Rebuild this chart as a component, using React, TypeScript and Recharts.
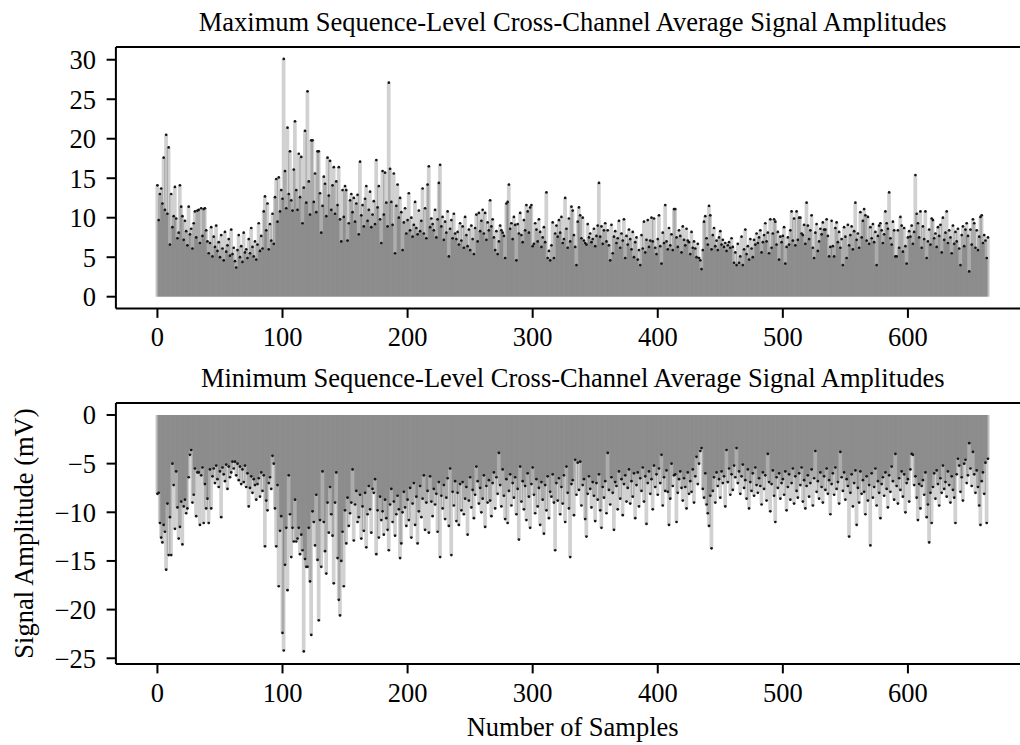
import React from 'react';
import { ComposedChart, Bar, Scatter, XAxis, YAxis, ReferenceLine } from 'recharts';

// Maximum sequence-level cross-channel average amplitude, samples 0..664
const maxValues: number[] = [
  14.1, 9.7, 13.0, 13.7, 11.8, 17.6, 11.0, 20.5, 10.5, 18.9, 6.6, 13.0, 8.8, 10.2, 13.9, 9.9, 7.4, 8.1, 14.1, 11.4,
  10.2, 7.2, 9.6, 8.3, 6.5, 11.4, 7.9, 8.6, 6.1, 9.3, 10.8, 7.5, 10.9, 11.0, 6.8, 11.2, 7.7, 11.1, 11.2, 8.4,
  7.0, 5.5, 6.8, 8.8, 5.1, 7.6, 6.3, 9.0, 5.8, 6.9, 5.0, 7.8, 6.1, 4.6, 8.2, 5.7, 6.5, 7.3, 5.2, 8.5,
  5.4, 6.2, 4.5, 3.7, 5.9, 7.8, 5.0, 6.4, 4.4, 8.1, 5.6, 6.0, 4.9, 7.3, 5.5, 8.7, 6.3, 5.1, 7.0, 4.7,
  6.6, 9.3, 5.8, 7.7, 6.1, 10.8, 12.7, 8.4, 11.8, 6.0, 9.2, 7.1, 10.5, 6.7, 12.6, 14.9, 9.5, 15.1, 10.8, 13.5,
  12.4, 30.1, 15.9, 11.2, 21.4, 13.0, 18.4, 12.2, 10.9, 16.1, 22.2, 13.5, 11.0, 18.1, 12.6, 17.7, 9.3, 13.8, 21.0, 11.9,
  26.0, 14.6, 10.4, 19.8, 19.8, 12.0, 15.6, 10.7, 18.4, 18.4, 13.1, 8.1, 11.5, 15.2, 14.3, 10.2, 17.6, 12.8, 17.2, 11.0,
  14.1, 16.4, 10.5, 14.6, 11.6, 16.4, 9.8, 7.0, 13.5, 10.1, 14.0, 13.5, 7.1, 9.3, 12.2, 13.0, 10.7, 12.5, 9.5, 11.8,
  12.9, 7.9, 17.1, 10.3, 11.6, 8.9, 12.4, 14.0, 9.6, 11.0, 13.3, 8.8, 10.4, 12.1, 9.2, 17.3, 11.3, 14.0, 9.8, 6.8,
  15.9, 10.4, 15.7, 11.9, 8.9, 27.1, 16.2, 12.0, 9.1, 15.6, 5.5, 11.5, 14.2, 10.0, 12.5, 10.7, 5.9, 9.4, 11.2, 8.0,
  9.7, 13.1, 8.4, 10.0, 7.6, 9.1, 12.0, 8.7, 7.9, 10.9, 8.3, 9.6, 13.7, 8.0, 11.2, 7.4, 14.2, 16.5, 8.8, 9.9,
  9.2, 8.4, 11.0, 7.5, 9.8, 14.4, 16.7, 8.9, 10.1, 7.2, 9.5, 8.1, 10.8, 5.1, 8.6, 9.7, 7.4, 10.5, 8.0, 7.3,
  8.2, 6.6, 9.3, 7.1, 8.9, 6.2, 10.1, 7.8, 6.4, 8.5, 5.9, 9.0, 7.3, 5.4, 8.7, 10.4, 7.0, 10.6, 8.3, 9.6,
  11.0, 8.0, 10.6, 7.2, 9.4, 8.4, 12.2, 8.9, 9.8, 7.5, 5.9, 8.3, 5.4, 7.0, 9.0, 8.4, 8.1, 7.7, 4.9, 11.8,
  12.0, 14.2, 8.6, 9.3, 7.3, 10.1, 9.1, 4.6, 9.2, 8.0, 10.6, 7.8, 6.9, 9.7, 8.4, 11.6, 10.8, 8.1, 11.3, 11.6,
  6.4, 6.7, 9.3, 8.5, 7.0, 9.8, 8.2, 6.3, 7.5, 8.8, 6.9, 13.2, 4.9, 5.8, 4.6, 6.5, 9.4, 4.9, 8.0, 9.0,
  7.6, 9.7, 8.1, 10.1, 6.8, 7.3, 12.5, 8.6, 6.2, 9.9, 7.0, 11.4, 10.9, 7.8, 6.3, 4.0, 9.5, 11.3, 10.3, 7.4,
  10.0, 7.1, 6.8, 6.6, 9.2, 7.5, 8.0, 6.9, 7.3, 8.6, 6.4, 7.7, 9.0, 14.4, 7.6, 8.9, 6.7, 8.4, 9.3, 7.0,
  8.4, 6.5, 4.6, 9.1, 5.5, 7.6, 8.3, 6.8, 7.4, 9.6, 6.2, 8.0, 7.1, 9.8, 4.9, 7.7, 6.6, 8.5, 7.3, 6.0,
  8.2, 5.0, 6.9, 7.5, 4.7, 5.9, 4.0, 7.8, 6.1, 9.5, 5.6, 7.2, 9.7, 6.3, 7.1, 10.0, 7.0, 9.9, 6.2, 5.4,
  7.3, 10.3, 6.4, 4.2, 8.1, 6.8, 11.6, 7.0, 6.0, 8.7, 6.5, 7.9, 5.9, 11.1, 11.1, 7.5, 6.3, 8.4, 7.7, 5.6,
  8.9, 7.2, 6.5, 8.6, 7.1, 6.9, 5.4, 8.2, 6.2, 7.0, 6.1, 5.0, 6.7, 4.9, 4.6, 3.5, 5.9, 9.5, 10.2, 7.4,
  6.6, 11.5, 10.3, 6.0, 7.8, 8.7, 6.4, 7.1, 5.9, 7.5, 8.3, 6.6, 7.2, 6.3, 6.8, 5.8, 6.5, 6.9, 6.2, 7.4,
  6.3, 4.3, 5.6, 4.0, 6.7, 4.3, 5.1, 7.6, 4.0, 6.0, 8.5, 5.4, 6.4, 4.7, 7.3, 6.1, 5.0, 7.2, 6.6, 8.0,
  6.8, 7.5, 8.4, 5.6, 6.9, 7.8, 9.3, 7.0, 8.1, 5.5, 9.8, 6.2, 8.0, 9.8, 9.5, 6.6, 8.2, 4.7, 7.6, 6.9,
  7.7, 8.8, 4.2, 6.3, 7.5, 6.6, 8.4, 10.8, 7.1, 9.9, 6.5, 10.8, 7.2, 10.0, 10.0, 8.0, 7.8, 9.1, 6.7, 11.9,
  9.0, 7.3, 8.4, 10.3, 6.2, 4.9, 8.1, 9.2, 5.8, 7.0, 8.6, 7.9, 9.4, 8.5, 8.5, 9.8, 7.7, 5.1, 6.3, 9.6,
  6.4, 5.1, 8.7, 9.4, 6.9, 8.2, 6.2, 7.3, 4.0, 8.8, 7.6, 4.9, 9.1, 6.5, 7.8, 8.9, 6.0, 8.3, 11.9, 7.2,
  8.0, 6.2, 10.7, 7.5, 9.6, 11.1, 10.3, 7.1, 10.1, 6.7, 8.8, 7.4, 9.2, 6.9, 8.2, 4.0, 7.7, 9.0, 9.3, 8.4,
  6.8, 7.9, 10.8, 9.3, 8.6, 13.2, 7.4, 6.6, 9.5, 8.4, 5.1, 5.1, 8.4, 6.2, 10.1, 9.0, 5.7, 8.7, 6.4, 4.2,
  7.5, 8.3, 7.6, 9.0, 6.7, 8.2, 15.4, 10.5, 9.3, 7.5, 10.8, 6.2, 8.9, 7.3, 10.8, 4.9, 7.0, 8.5, 6.6, 9.9,
  9.7, 7.4, 8.0, 6.3, 8.8, 7.7, 9.1, 5.6, 10.0, 7.2, 8.1, 10.8, 6.8, 8.4, 7.5, 5.5, 9.0, 6.7, 8.2, 7.0,
  8.6, 6.1, 4.0, 7.8, 8.9, 6.4, 8.5, 9.3, 7.7, 3.2, 8.5, 6.6, 9.8, 9.3, 6.2, 8.4, 5.9, 7.6, 10.1, 10.3, 6.8, 7.8, 7.1, 4.9, 7.5,
];

// Minimum sequence-level cross-channel average amplitude, samples 0..664
const minValues: number[] = [
  -8.1, -8.0, -11.1, -12.6, -13.1, -11.3, -12.0, -15.9, -9.1, -14.4, -10.5, -14.4, -5.0, -7.2, -11.7, -5.8, -9.5, -12.7, -11.5, -8.9,
  -13.3, -9.4, -8.7, -10.1, -9.6, -6.4, -4.1, -3.6, -9.0, -8.2, -5.5, -10.4, -5.9, -5.9, -11.3, -6.2, -5.4, -11.1, -7.1, -9.6,
  -8.6, -11.1, -5.6, -9.6, -6.3, -5.5, -7.0, -5.2, -6.6, -7.4, -5.8, -10.5, -5.4, -6.1, -6.8, -5.1, -7.6, -5.3, -6.4, -5.9,
  -4.8, -5.5, -4.8, -6.2, -5.0, -6.7, -5.3, -7.1, -5.6, -6.9, -5.2, -7.4, -6.0, -9.4, -7.5, -6.3, -8.0, -6.6, -7.2, -8.7,
  -7.1, -6.5, -8.4, -5.9, -7.8, -6.2, -13.5, -8.8, -9.8, -7.0, -6.4, -7.6, -4.2, -5.0, -9.6, -13.5, -7.2, -17.6, -11.9, -10.4,
  -22.4, -24.2, -15.4, -11.6, -18.0, -6.2, -10.2, -14.6, -11.6, -13.0, -8.7, -13.0, -12.7, -11.6, -14.3, -12.3, -13.9, -24.3, -14.8, -15.6,
  -15.6, -11.6, -17.1, -22.6, -9.9, -11.0, -13.4, -8.2, -14.9, -21.1, -10.8, -15.6, -5.8, -11.0, -14.0, -16.3, -9.0, -12.1, -7.4, -10.2,
  -12.4, -17.3, -9.0, -5.9, -14.7, -19.0, -20.6, -15.0, -12.0, -17.6, -9.8, -13.2, -8.5, -11.4, -10.1, -9.0, -5.6, -12.9, -9.2, -7.8,
  -11.0, -10.5, -8.2, -12.7, -9.4, -11.9, -8.0, -13.6, -10.2, -7.3, -9.7, -12.1, -7.6, -8.0, -6.6, -14.3, -9.8, -12.6, -8.4, -10.8,
  -9.9, -12.3, -8.7, -10.6, -11.8, -13.9, -9.2, -7.6, -11.0, -8.9, -12.4, -10.2, -8.3, -9.7, -14.7, -13.2, -10.0, -7.9, -9.5, -11.4,
  -8.7, -10.8, -7.5, -12.6, -9.1, -7.0, -11.3, -8.4, -13.2, -9.9, -7.3, -10.5, -8.6, -6.2, -11.8, -9.0, -7.8, -12.1, -6.3, -8.9,
  -10.4, -7.6, -9.2, -8.1, -12.0, -6.9, -14.6, -8.3, -9.6, -7.2, -10.7, -8.5, -6.5, -11.4, -5.5, -14.4, -7.9, -9.3, -6.8, -10.9,
  -8.0, -11.3, -7.1, -9.8, -6.9, -10.2, -8.6, -7.4, -12.3, -8.8, -6.4, -9.5, -7.7, -10.6, -8.2, -5.3, -6.8, -9.1, -7.5, -10.0,
  -8.6, -6.2, -11.5, -7.3, -9.0, -6.7, -8.8, -10.4, -7.0, -5.9, -9.6, -6.4, -8.1, -3.9, -7.2, -9.4, -5.6, -8.3, -10.7, -6.6,
  -11.1, -7.8, -6.1, -9.3, -7.0, -8.5, -6.4, -10.2, -7.6, -12.8, -5.3, -8.9, -6.8, -9.7, -7.3, -10.8, -6.0, -8.4, -11.6, -7.1,
  -5.4, -8.2, -10.1, -6.6, -9.4, -7.5, -11.3, -6.9, -8.7, -12.2, -7.2, -9.8, -6.3, -10.6, -7.9, -8.4, -6.1, -9.0, -13.9, -7.0,
  -8.8, -6.5, -10.2, -7.4, -9.1, -6.2, -11.0, -5.3, -8.0, -9.6, -14.6, -7.1, -6.7, -10.3, -4.6, -8.2, -4.9, -7.7, -4.8, -9.3,
  -7.2, -6.6, -10.7, -12.5, -8.1, -6.3, -7.6, -9.5, -6.9, -8.3, -10.9, -7.0, -8.7, -6.1, -9.8, -11.6, -7.4, -8.5, -6.8, -10.1,
  -3.9, -7.7, -9.2, -6.4, -8.0, -11.8, -6.9, -7.3, -9.7, -5.8, -8.6, -6.6, -10.3, -7.1, -6.2, -8.9, -7.5, -5.6, -9.1, -6.8,
  -8.4, -6.0, -10.6, -7.2, -5.9, -9.4, -6.5, -7.8, -5.4, -8.9, -6.3, -11.2, -7.0, -5.8, -8.1, -6.6, -9.7, -5.2, -7.4, -6.1,
  -8.2, -5.5, -7.0, -4.1, -9.3, -6.4, -7.8, -5.7, -7.9, -11.3, -8.6, -5.0, -7.3, -6.2, -6.1, -11.0, -8.0, -6.6, -5.8, -7.5,
  -8.8, -6.5, -7.4, -9.6, -5.9, -8.1, -6.8, -7.9, -5.6, -9.0, -6.3, -4.3, -7.1, -5.0, -3.7, -3.4, -7.6, -8.5, -6.0, -9.2,
  -10.1, -11.4, -8.3, -13.7, -7.8, -6.4, -9.0, -5.9, -7.3, -6.6, -8.5, -5.8, -7.0, -6.3, -9.4, -3.6, -6.9, -5.5, -8.2, -6.1,
  -7.7, -5.2, -6.4, -3.4, -7.0, -5.8, -8.1, -6.3, -5.1, -7.5, -6.7, -8.6, -5.6, -9.6, -6.9, -7.8, -6.0, -8.3, -5.4, -7.2,
  -8.0, -6.5, -7.3, -9.2, -5.9, -7.6, -6.2, -8.8, -4.0, -6.9, -9.9, -7.1, -5.7, -8.3, -11.0, -6.4, -7.5, -6.0, -8.6, -7.0,
  -6.6, -8.2, -5.8, -9.8, -7.4, -6.1, -8.7, -7.0, -5.5, -9.1, -6.3, -7.8, -8.5, -6.0, -7.2, -5.4, -8.9, -6.7, -9.6, -7.3,
  -6.2, -8.4, -7.0, -5.6, -9.3, -6.5, -3.7, -7.9, -6.8, -8.6, -5.9, -7.4, -9.0, -6.3, -7.7, -5.5, -8.1, -6.7, -10.2, -7.1,
  -6.0, -8.2, -5.4, -7.6, -6.9, -9.1, -3.8, -6.4, -7.8, -5.9, -8.7, -6.6, -7.3, -12.5, -8.0, -6.1, -9.4, -7.0, -5.7, -11.3,
  -7.5, -9.0, -5.8, -8.1, -6.7, -7.9, -10.2, -6.3, -8.8, -7.2, -13.4, -6.0, -8.5, -7.4, -5.5, -9.3, -6.8, -8.0, -10.6, -7.1,
  -6.4, -8.3, -5.9, -7.6, -9.5, -6.2, -7.9, -5.3, -6.8, -8.7, -4.0, -7.3, -9.1, -6.5, -7.7, -5.8, -8.4, -6.1, -10.0, -7.0,
  -6.6, -8.9, -5.6, -4.0, -4.1, -7.2, -6.3, -8.5, -10.8, -7.1, -9.6, -7.3, -6.7, -8.2, -5.9, -10.5, -9.2, -13.1, -8.0, -11.1,
  -7.4, -6.0, -8.6, -5.7, -7.1, -9.3, -6.5, -8.0, -5.2, -7.6, -6.9, -8.4, -5.8, -7.2, -9.0, -6.3, -7.7, -8.5, -11.1, -6.1,
  -4.5, -5.2, -7.9, -6.4, -8.8, -5.0, -4.6, -7.0, -6.2, -2.9, -5.5, -7.3, -3.8, -6.1, -8.0, -5.7, -7.4, -9.3, -11.3, -6.8, -5.9, -8.1, -4.9, -11.1, -4.5,
];

const xTicks: number[] = [0, 100, 200, 300, 400, 500, 600];
const maxYTicks: number[] = [0, 5, 10, 15, 20, 25, 30];
const minYTicks: number[] = [-25, -20, -15, -10, -5, 0];

const topTitle = 'Maximum Sequence-Level Cross-Channel Average Signal Amplitudes';
const bottomTitle = 'Minimum Sequence-Level Cross-Channel Average Signal Amplitudes';
const xLabel = 'Number of Samples';
const yLabel = 'Signal Amplitude (mV)';

const FONT = '"Liberation Serif", "Times New Roman", Times, serif';
const FS = 26.5;

const toRows = (vals: number[]) => vals.map((v, i) => ({ n: i, v }));

const Stem = (props: any) => {
  const { x, y, width, height } = props;
  if (x == null || y == null || isNaN(x) || isNaN(y)) return null;
  const w = width || 0;
  const h = height || 0;
  const cx = x + w / 2;
  const top = Math.min(y, y + h);
  return (
    <rect x={cx - 1.875} y={top} width={3.75} height={Math.abs(h)} fill="#000" fillOpacity={0.18} />
  );
};

const Dot = (props: any) => {
  const { cx, cy } = props;
  if (cx == null || cy == null) return null;
  return <circle cx={cx} cy={cy} r={1.35} fill="#151515" />;
};

const fmt = (v: number) => String(v).replace('-', '\u2212');

const axisStyle = { stroke: '#000', strokeWidth: 2 };
const tickStyle = { fill: '#000', fontSize: FS, fontFamily: FONT };

type PanelProps = {
  values: number[];
  yDomain: [number, number];
  yTicks: number[];
  top: number;
  height: number;
  marginTop: number;
  marginBottom: number;
};

const Panel = ({ values, yDomain, yTicks, top, height, marginTop, marginBottom }: PanelProps) => {
  const rows = toRows(values);
  return (
    <div style={{ position: 'absolute', left: 0, top, width: 1040, height }}>
      <ComposedChart
        width={1040}
        height={height}
        data={rows}
        margin={{ top: marginTop, right: 10.5, bottom: marginBottom, left: 35.9 }}
      >
        <XAxis
          dataKey="n"
          type="number"
          domain={[-33.2, 697.2]}
          allowDataOverflow
          ticks={xTicks}
          interval={0}
          height={40}
          tickSize={9.3}
          tickMargin={9.35}
          axisLine={axisStyle}
          tickLine={axisStyle}
          tick={tickStyle}
        />
        <YAxis
          type="number"
          domain={yDomain}
          allowDataOverflow
          ticks={yTicks}
          interval={0}
          width={80}
          tickSize={9.3}
          tickMargin={10.5}
          tickFormatter={fmt}
          axisLine={axisStyle}
          tickLine={axisStyle}
          tick={tickStyle}
        />
        <ReferenceLine y={yDomain[1]} stroke="#000" strokeWidth={2} />
        <Bar dataKey="v" barSize={1} shape={Stem} isAnimationActive={false} />
        <Scatter dataKey="v" shape={Dot} isAnimationActive={false} />
      </ComposedChart>
    </div>
  );
};

export default function App() {
  return (
    <div
      style={{
        position: 'absolute',
        left: 0,
        top: 0,
        width: 1020,
        height: 745,
        overflow: 'hidden',
        background: '#fff',
      }}
    >
      <Panel values={maxValues} yDomain={[-1.5, 31.6]} yTicks={maxYTicks} top={0} height={360} marginTop={47.1} marginBottom={11.45} />
      <Panel values={minValues} yDomain={[-25.6, 1.22]} yTicks={minYTicks} top={365} height={380} marginTop={38.1} marginBottom={40.9} />
      <svg
        width={1020}
        height={745}
        style={{ position: 'absolute', left: 0, top: 0, pointerEvents: 'none' }}
        fontFamily={FONT}
        fontSize={FS}
        fill="#000"
      >
        <text x={572.7} y={31.2} textAnchor="middle">{topTitle}</text>
        <text x={572.7} y={387.2} textAnchor="middle">{bottomTitle}</text>
        <text x={572.7} y={736} textAnchor="middle">{xLabel}</text>
        <text transform="translate(32.5,533.6) rotate(-90)" textAnchor="middle">{yLabel}</text>
      </svg>
    </div>
  );
}
